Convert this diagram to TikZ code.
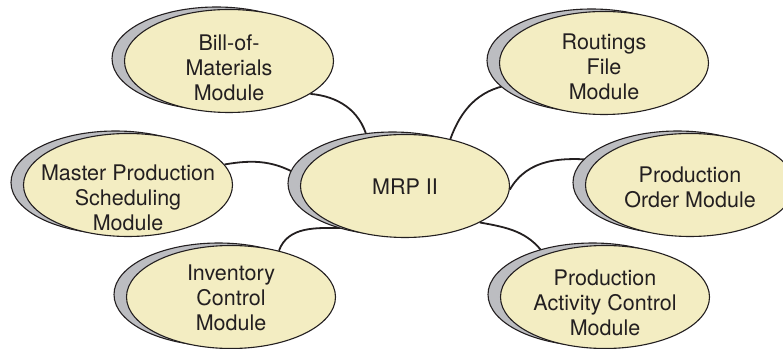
\documentclass[tikz,border=0pt]{standalone}
\usepackage{fontspec}
\setmainfont{TeX Gyre Heros}
\usepackage{xcolor}
\usetikzlibrary{shapes.geometric,shadows,backgrounds}
\definecolor{bubblefill}{HTML}{F3EDC2}
\definecolor{bubbleshade}{HTML}{BCBDC1}
\definecolor{inkline}{HTML}{231F20}

\begin{document}
\begin{tikzpicture}[
  x=1pt, y=1pt,
  bubble/.style={ellipse,draw=inkline,line width=1.1pt,fill=bubblefill,
    minimum width=209pt,minimum height=103pt,inner sep=0pt,
    copy shadow={shadow xshift=-12.5pt,shadow yshift=2.5pt,opacity=1,
      fill=bubbleshade,draw=inkline,line width=1.1pt}},
  modtext/.style={align=center,inner sep=0pt,text=inkline,
    font=\fontsize{21.5}{25}\selectfont},
  link/.style={draw=inkline,line width=1.8pt}
  ]
\useasboundingbox (0,0) rectangle (783,348);
% the module bubbles
\node[bubble] (mrp)  at (405,162) {};   % hub
\node[bubble] (bom)  at (229,287) {};
\node[bubble] (rout) at (604,285) {};
\node[bubble] (mps)  at (128,163) {};
\node[bubble] (po)   at (690,163) {};
\node[bubble] (inv)  at (231,51) {};
\node[bubble] (pac)  at (605,51) {};
% their names
\node[modtext] (mrptext)  at (405,161.5) {MRP II};
\node[modtext] (bomtext)  at (229,280.5) {Bill-of-\\Materials\\Module};
\node[modtext] (routtext) at (604,281.5) {Routings\\File\\Module};
\node[modtext] (mpstext)  at (128,150.5) {Master Production\\Scheduling\\Module};
\node[modtext] (potext)   at (690,160.5) {Production\\Order Module};
\node[modtext] (invtext)  at (231,50.5) {Inventory\\Control\\Module};
\node[modtext] (pactext)  at (605,45) {Production\\Activity Control\\Module};
% links run underneath the bubbles
\begin{pgfonlayer}{background}
\draw[link] (bom.-22)  to[out=-5,in=105]  (mrp.128);
\draw[link] (rout.193) to[out=190,in=70]  (mrp.46);
\draw[link] (mps.12)   to[out=10,in=148]  (mrp.175);
\draw[link] (mrp.-2)   to[out=60,in=175]  (po.165);
\draw[link] (inv.44)   to[out=70,in=180]  (mrp.214);
\draw[link] (mrp.-26)  to[out=-10,in=125] (pac.145);
\end{pgfonlayer}
\end{tikzpicture}
\end{document}
